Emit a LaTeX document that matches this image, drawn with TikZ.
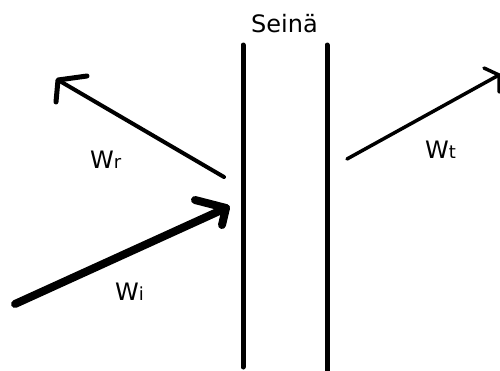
\documentclass[tikz,border=0pt]{standalone}
\usepackage{fontspec}
\setmainfont{DejaVu Sans}
\begin{document}
\begin{tikzpicture}[x=1pt,y=-1pt,
  wall/.style={line width=5pt,line cap=round},
  ray/.style={line cap=round,line join=round},
  lbl/.style={anchor=base west,inner sep=0pt,font=\fontsize{24}{24}\selectfont}]
\useasboundingbox (0,0) rectangle (500,370);
% walls
\coordinate (l1) at (243,45); \coordinate (l2) at (243,367);
\coordinate (r1) at (327,45); \coordinate (r2) at (327,372);
\draw[wall] (l1) -- (l2);
\draw[wall] (r1) -- (r2);
\node[lbl] (seina) at (251,32) {Seinä};
% incident
\coordinate (i0) at (15,304); \coordinate (it) at (226,208);
\coordinate (ib1) at (195,200); \coordinate (ib2) at (222,225);
\draw[ray,line width=8pt] (i0) -- (it);
\draw[ray,line width=8pt] (ib1) -- (it) -- (ib2);
% reflected
\coordinate (r0) at (224,177); \coordinate (rt) at (58,80);
\coordinate (rb1) at (87,76); \coordinate (rb2) at (56,102);
\draw[ray,line width=4pt] (r0) -- (rt);
\draw[ray,line width=5pt] (rb1) -- (rt) -- (rb2);
% transmitted
\coordinate (t0) at (347,159); \coordinate (tt) at (499,75);
\coordinate (tb1) at (484,68); \coordinate (tb2) at (499,92);
\draw[ray,line width=3.5pt] (t0) -- (tt);
\draw[ray,line width=3.5pt] (tb1) -- (tt) -- (tb2);
% labels
\node[lbl] (wr) at (90,168) {W{\fontsize{18}{18}\selectfont r}};
\node[lbl] (wt) at (425,158) {W{\fontsize{18}{18}\selectfont t}};
\node[lbl] (wi) at (115,300) {W{\fontsize{18}{18}\selectfont i}};
\end{tikzpicture}
\end{document}
